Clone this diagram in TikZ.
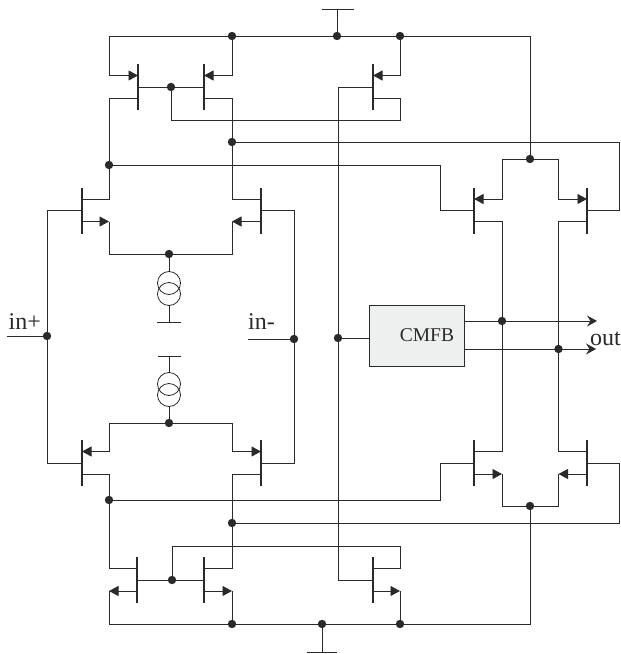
\documentclass[tikz,border=0pt]{standalone}
\usepackage{fontspec}
\setmainfont{Liberation Serif}
\usetikzlibrary{arrows.meta}
\definecolor{ink}{HTML}{2A2A2A}
\definecolor{cmfbfill}{HTML}{EEF0EF}
\tikzset{
  wire/.style={draw=ink,line width=0.95pt},
  bar/.style={draw=ink,line width=1.5pt},
  dot/.style={circle,fill=ink,draw=none,inner sep=0pt,minimum size=8.4pt},
  tip/.style={-{Triangle[length=9.5pt,width=10pt]}},
  outtip/.style={-{Stealth[length=10pt,width=11pt,inset=3.5pt]}},
  lbl/.style={font=\fontsize{24}{26}\selectfont,text=ink,inner sep=0pt},
  blockbox/.style={draw=ink,line width=0.95pt,fill=cmfbfill,minimum width=95pt,minimum height=61pt,inner sep=0pt,font=\fontsize{19.5}{22}\selectfont,text=ink},
  source/.style={circle,draw=ink,line width=0.8pt,minimum size=23pt,inner sep=0pt}
}
% transistor: bar at x, centred at y; t=upper terminal, g=gate, b=lower terminal
\newcommand{\fet}[3]{%
  \draw[bar] (#2,#3-23) -- (#2,#3+23);
  \coordinate (#1t) at (#2,#3-11.5);
  \coordinate (#1g) at (#2,#3);
  \coordinate (#1b) at (#2,#3+11);
}
\newcommand{\junction}[3]{\node[dot] (#1) at (#2,#3) {};}
\begin{document}
\begin{tikzpicture}[x=1pt,y=-1pt]
\useasboundingbox (0,0) rectangle (621,654);
% transistors
\fet{pa}{138}{87}
\fet{pb}{204}{87}
\fet{pc}{373}{87}
\fet{ia}{82}{210.5}
\fet{ib}{261}{210.5}
\fet{ic}{82}{463}
\fet{id}{261}{463}
\fet{oa}{474}{210.5}
\fet{ob}{587}{210.5}
\fet{oc}{474}{463}
\fet{od}{587}{463}
\fet{na}{137}{580}
\fet{nb}{204}{580}
\fet{nc}{373}{580}
% junctions
\junction{vdda}{232}{36}
\junction{vddb}{337}{36}
\junction{vddc}{400}{36}
\junction{pgate}{171}{87}
\junction{fbtop}{232}{142}
\junction{optop}{109}{165}
\junction{itop}{169}{254}
\junction{ibot}{169}{423}
\junction{inp}{47}{336}
\junction{inm}{294}{339}
\junction{opbot}{109}{500}
\junction{fbbot}{232}{523}
\junction{ngate}{172}{580}
\junction{vssa}{232}{624}
\junction{vssb}{322}{624}
\junction{vssc}{400}{624}
\junction{outtop}{530}{159}
\junction{outbot}{530}{506}
\junction{cmfbin}{338}{338}
\junction{outa}{502}{321}
\junction{outb}{558.5}{349}
% CMFB
\node[blockbox] (cmfb) at (416.5,335.5) {\hspace*{21pt}CMFB};
% corners and free ends
\coordinate (vl) at (109,36);
\coordinate (vr) at (530,36);
\coordinate (vddend) at (337,9);
\coordinate (vddl) at (322,9);
\coordinate (vddr) at (354,9);
\coordinate (vssend) at (322,652);
\coordinate (vssl) at (307,652);
\coordinate (vssr) at (337,652);
\coordinate (mirA) at (171,120);
\coordinate (mirB) at (400,120);
\coordinate (mirC) at (172,546);
\coordinate (mirD) at (400,546);
\coordinate (itl) at (109,254);
\coordinate (itr) at (232,254);
\coordinate (ibl) at (109,423);
\coordinate (ibr) at (232,423);
\coordinate (vbl) at (109,624);
\coordinate (vbr) at (530,624);
\coordinate (sa) at (109,0);
\coordinate (sb) at (232,0);
\coordinate (sc) at (400,0);
\coordinate (gl) at (47,0);
\coordinate (gr) at (294,0);
\coordinate (ftr) at (619,142);
\coordinate (fbr) at (619,523);
\coordinate (otx) at (440,165);
\coordinate (obx) at (440,500);
\coordinate (ol) at (502,159);
\coordinate (or) at (558.5,159);
\coordinate (ul) at (502,506);
\coordinate (ur) at (558.5,506);
\coordinate (gnda) at (169,322);
\coordinate (gndb) at (169,356);
\coordinate (gndal) at (157,322);
\coordinate (gndar) at (181,322);
\coordinate (gndbl) at (158,356);
\coordinate (gndbr) at (181,356);
\coordinate (oe1) at (597,321);
\coordinate (oe2) at (596,349);
\coordinate (ia) at (7,336);
\coordinate (ib) at (248,339);
% top rail
\draw[wire] (vl) -- (vdda) -- (vddb) -- (vddc) -- (vr) -- (outtop);
\draw[wire] (vddb) -- (vddend);
\draw[wire] (vddl) -- (vddr);
% upper mirror
\draw[wire,tip] (vl) |- (pat);
\draw[wire,tip] (vdda) |- (pbt);
\draw[wire] (pag) -- (pgate) -- (pbg);
\draw[wire] (pab) -| (optop);
\draw[wire] (pbb) -| (fbtop);
\draw[wire] (pgate) -- (mirA) -- (mirB) |- (pcb);
\draw[wire,tip] (vddc) |- (pct);
\draw[wire] (pcg) -| (cmfbin);
\draw[wire] (cmfbin) |- (ncg);
% upper input pair
\draw[wire] (optop) |- (iat);
\draw[wire] (fbtop) |- (ibt);
\draw[wire,tip] (iab) -- (sa |- iab);
\draw[wire,tip] (ibb) -- (sb |- ibb);
\draw[wire] (sa |- iab) -- (itl) -- (itop) -- (itr) -- (sb |- ibb);
\draw[wire] (iag) -| (inp);
\draw[wire] (inp) |- (icg);
\draw[wire] (ibg) -| (inm);
\draw[wire] (inm) |- (idg);
% current sources
\node[source] (csa) at (169,283) {};
\node[source] (csb) at (169,294) {};
\node[source] (csc) at (169,384) {};
\node[source] (csd) at (169,395) {};
\draw[wire] (itop) -- (csa);
\draw[wire] (csb) -- (gnda);
\draw[wire] (gndal) -- (gndar);
\draw[wire] (gndb) -- (csc);
\draw[wire] (gndbl) -- (gndbr);
\draw[wire] (csd) -- (ibot);
% lower input pair
\draw[wire,tip] (ibot) -- (ibl) |- (ict);
\draw[wire,tip] (ibot) -- (ibr) |- (idt);
\draw[wire] (icb) -| (opbot);
\draw[wire] (opbot) |- (nat);
\draw[wire] (idb) -| (fbbot);
\draw[wire] (fbbot) |- (nbt);
% lower mirror
\draw[wire] (nag) -- (ngate) -- (nbg);
\draw[wire] (ngate) -- (mirC) -- (mirD) |- (nct);
\draw[wire,tip] (nab) -- (sa |- nab);
\draw[wire] (sa |- nab) -- (vbl) -- (vssa);
\draw[wire,tip] (nbb) -- (sb |- nbb);
\draw[wire] (sb |- nbb) -- (vssa) -- (vssb) -- (vssc) -- (vbr) -- (outbot);
\draw[wire,tip] (ncb) -- (sc |- ncb);
\draw[wire] (sc |- ncb) -- (vssc);
\draw[wire] (vssb) -- (vssend);
\draw[wire] (vssl) -- (vssr);
% cross connections
\draw[wire] (fbtop) -- (ftr) |- (obg);
\draw[wire] (optop) -- (otx) |- (oag);
\draw[wire] (opbot) -- (obx) |- (ocg);
\draw[wire] (fbbot) -- (fbr) |- (odg);
% output stage
\draw[wire,tip] (outtop) -- (ol) |- (oat);
\draw[wire,tip] (outtop) -- (or) |- (obt);
\draw[wire] (oab) -| (outa);
\draw[wire] (outa) |- (oct);
\draw[wire] (obb) -| (outb);
\draw[wire] (outb) |- (odt);
\draw[wire,tip] (ocb) -- (ol |- ocb);
\draw[wire,tip] (odb) -- (or |- odb);
\draw[wire] (ol |- ocb) -- (ul) -- (outbot) -- (ur) -- (or |- odb);
% CMFB wiring
\draw[wire] (cmfbin) -- (cmfb.west |- cmfbin);
\draw[wire,outtip] (cmfb.east |- outa) -- (oe1);
\draw[wire,outtip] (cmfb.east |- outb) -- (oe2);
% labels
\node[lbl,anchor=base west] (lout) at (590,345) {out};
\node[lbl,anchor=base west] (linp) at (8.5,329) {in+};
\node[lbl,anchor=base west] (linm) at (248,329) {in-};
\draw[wire] (ia) -- (inp);
\draw[wire] (ib) -- (inm);
\end{tikzpicture}
\end{document}
